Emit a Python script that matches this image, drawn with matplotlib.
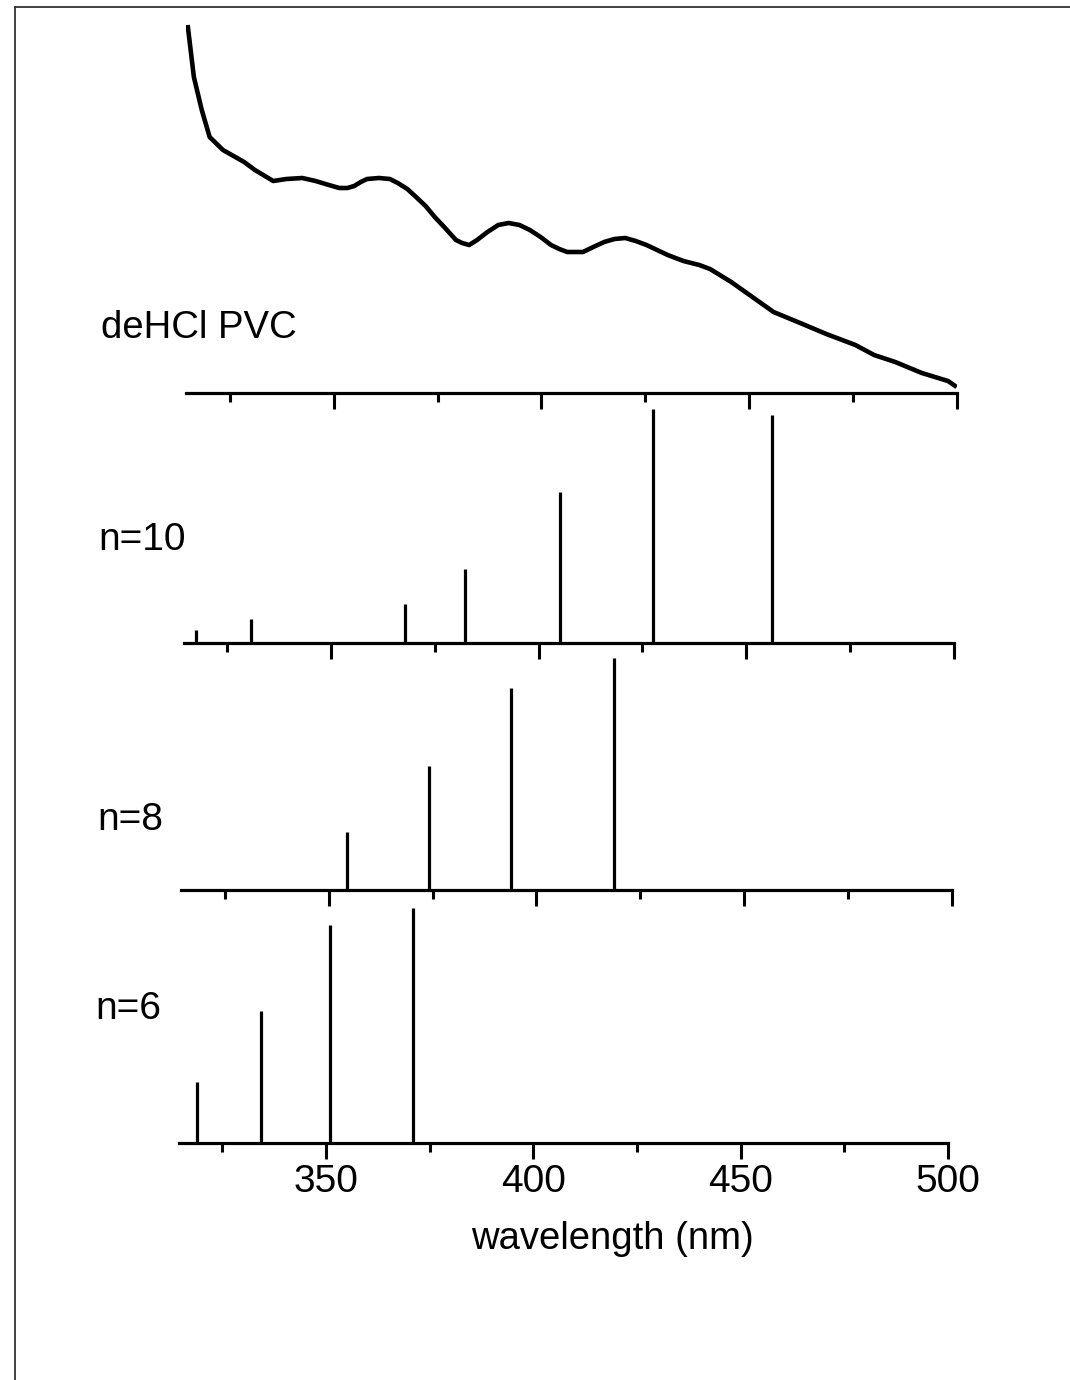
import matplotlib
matplotlib.use("Agg")
import matplotlib.pyplot as plt
from matplotlib.lines import Line2D
from matplotlib.ticker import MultipleLocator

plt.rcParams['font.family'] = ['Liberation Sans', 'DejaVu Sans']

# deHCl PVC absorption spectrum (arbitrary units)
pvc_wl = [314.8, 316.3, 318.2, 320.1, 323.3, 328.4, 331.0, 335.4, 338.6, 342.4,
          345.6, 348.8, 351.3, 353.3, 354.9, 356.5, 358.0, 360.9, 363.5, 365.4,
          367.7, 369.8, 372.1, 374.3, 376.8, 379.4, 380.9, 382.6, 384.5, 387.0,
          389.6, 392.1, 394.7, 397.2, 399.8, 402.3, 404.3, 406.2, 410.0, 412.5,
          415.1, 417.6, 420.2, 422.7, 425.3, 430.4, 434.2, 438.0, 440.6, 445.7,
          450.8, 455.9, 462.3, 468.6, 475.6, 480.1, 485.2, 491.6, 497.9, 500.0]
pvc_abs = [3.68, 3.16, 2.83, 2.56, 2.43, 2.31, 2.23, 2.12, 2.14, 2.15,
           2.12, 2.08, 2.05, 2.05, 2.07, 2.11, 2.14, 2.15, 2.14, 2.10,
           2.04, 1.96, 1.87, 1.76, 1.65, 1.53, 1.50, 1.48, 1.53, 1.61,
           1.68, 1.70, 1.68, 1.63, 1.56, 1.48, 1.44, 1.41, 1.41, 1.46,
           1.51, 1.54, 1.55, 1.52, 1.48, 1.38, 1.32, 1.28, 1.24, 1.11,
           0.96, 0.81, 0.70, 0.59, 0.48, 0.38, 0.31, 0.20, 0.12, 0.06]

# calculated transitions (wavelength nm, relative intensity)
n10_wl = [317.3, 330.6, 367.8, 382.3, 405.1, 427.6, 456.2]
n10_int = [0.13, 0.24, 0.39, 0.74, 1.51, 2.34, 2.28]

n8_wl = [354.3, 374.1, 393.8, 418.6]
n8_int = [0.58, 1.24, 2.02, 2.32]

n6_wl = [318.8, 334.3, 351.0, 371.0]
n6_int = [0.61, 1.32, 2.18, 2.35]

W, H = 1070, 1380
fig = plt.figure(figsize=(10.7, 13.8), dpi=100)


def make_axes(left, right, base, top):
    # pixel box -> figure fraction
    return fig.add_axes([left / W, 1 - base / H, (right - left) / W, (base - top) / H])


def style(ax, labels=False):
    ax.set_xlim(314.5, 500)
    for s in ['top', 'left', 'right']:
        ax.spines[s].set_visible(False)
    ax.spines['bottom'].set_linewidth(2.3)
    ax.set_yticks([])
    ax.xaxis.set_major_locator(MultipleLocator(50))
    ax.xaxis.set_minor_locator(MultipleLocator(25))
    ax.tick_params(axis='x', which='major', direction='out', length=11.5, width=2.2)
    ax.tick_params(axis='x', which='minor', direction='out', length=6.5, width=2.2)
    ax.patch.set_alpha(0)
    if labels:
        ax.tick_params(axis='x', which='major', labelsize=28, pad=3.5)
    else:
        ax.tick_params(axis='x', which='both', labelbottom=False)


# top: measured spectrum
ax0 = make_axes(186.4, 956.7, 393, 20)
ax0.plot(pvc_wl, pvc_abs, color='black', lw=3.3, solid_joinstyle='round',
         solid_capstyle='butt')
ax0.set_ylim(0, 3.73)
style(ax0)

panels = [
    (183.9, 953.7, 643, n10_wl, n10_int),
    (181.3, 951.6, 890, n8_wl, n8_int),
    (178.8, 948.0, 1143, n6_wl, n6_int),
]
for i, (l, r, b, wl, inten) in enumerate(panels):
    ax = make_axes(l, r, b, b - 240)
    ax.vlines(wl, 0, inten, color='black', lw=2.3)
    ax.set_ylim(0, 2.4)
    style(ax, labels=(i == len(panels) - 1))

fig.text(101 / W, 1 - 338 / H, 'deHCl PVC', fontsize=27.5, va='baseline', ha='left')
fig.text(98 / W, 1 - 550 / H, 'n=10', fontsize=28, va='baseline', ha='left')
fig.text(97 / W, 1 - 830 / H, 'n=8', fontsize=28, va='baseline', ha='left')
fig.text(95 / W, 1 - 1019 / H, 'n=6', fontsize=28, va='baseline', ha='left')
fig.text(612 / W, 1 - 1239 / H, 'wavelength (nm)', fontsize=27.5, va='center', ha='center')

# scanned page edge
fig.add_artist(Line2D([15 / W, 1], [1 - 7 / H, 1 - 7 / H], color='#333333', lw=1.3))
fig.add_artist(Line2D([15 / W, 15 / W], [1 - 7 / H, 0], color='#333333', lw=1.3))

fig.savefig('out.png', dpi=100)
